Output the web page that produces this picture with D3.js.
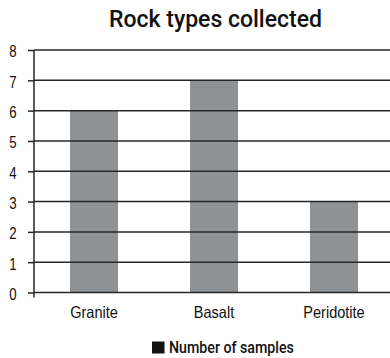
<!DOCTYPE html>
<html>
<head>
<meta charset="utf-8">
<script src="https://cdn.jsdelivr.net/npm/d3@7"></script>
<style>
  html, body { margin: 0; padding: 0; background: #fff; }
  svg { display: block; font-family: Roboto, "Noto Sans", sans-serif; }
</style>
</head>
<body>
<svg id="chart" width="390" height="358"></svg>
<script>
// Rock samples collected per rock type
const categories = ["Granite", "Basalt", "Peridotite"];
const samples = [6, 7, 3];
const yTicks = [0, 1, 2, 3, 4, 5, 6, 7, 8];
const chartTitle = "Rock types collected";
const seriesName = "Number of samples";

const svg = d3.select("#chart");
const margin = { left: 34, right: -4, top: 50, bottom: 65.5 };
const W = 390, H = 358;

// Squeeze text horizontally to get a condensed face from a regular one
function condense(sel, k) {
  sel.each(function () {
    const w = this.getComputedTextLength();
    d3.select(this)
      .attr("textLength", w * k)
      .attr("lengthAdjust", "spacingAndGlyphs");
  });
}

const x = d3.scaleBand()
  .domain(categories)
  .range([margin.left, W - margin.right])
  .paddingInner(0.6)
  .paddingOuter(0.3);

const y = d3.scaleLinear()
  .domain([0, 8])
  .range([H - margin.bottom, margin.top]);

// Title
svg.append("text")
  .attr("x", 215.5)
  .attr("y", 27)
  .attr("text-anchor", "middle")
  .attr("font-size", 23)
  .attr("font-weight", 500)
  .attr("fill", "#111")
  .text(chartTitle)
  .call(condense, 1.0);

// Bars
svg.append("g")
  .selectAll("rect")
  .data(samples)
  .join("rect")
  .attr("x", (d, i) => x(categories[i]))
  .attr("y", d => y(d))
  .attr("width", x.bandwidth())
  .attr("height", d => y(0) - y(d))
  .attr("fill", "#8f9295");

// Horizontal gridlines, drawn over the bars
svg.append("g")
  .selectAll("line")
  .data(yTicks)
  .join("line")
  .attr("x1", margin.left)
  .attr("x2", W)
  .attr("y1", d => y(d))
  .attr("y2", d => y(d))
  .attr("stroke", "#262626")
  .attr("stroke-width", 1.5);

// Y axis
const yAxis = svg.append("g")
  .attr("transform", `translate(${margin.left},0)`)
  .call(d3.axisLeft(y).tickValues(yTicks).tickSize(6).tickSizeOuter(0).tickPadding(12));
yAxis.select(".domain").remove();
yAxis.selectAll(".tick line").attr("stroke", "#262626").attr("stroke-width", 1.5);
yAxis.selectAll(".tick text")
  .attr("font-size", 17)
  .attr("font-family", null)
  .attr("fill", "#111")
  .attr("text-anchor", "middle")
  .attr("x", -21)
  .attr("dy", "0.4em")
  .call(condense, 0.78);
yAxis.append("line")
  .attr("x1", 0).attr("x2", 0)
  .attr("y1", y(8)).attr("y2", y(0) + 5)
  .attr("stroke", "#262626")
  .attr("stroke-width", 1.5);

// X axis labels
const xAxis = svg.append("g")
  .attr("transform", `translate(0,${y(0)})`)
  .call(d3.axisBottom(x).tickSize(0).tickPadding(14));
xAxis.select(".domain").remove();
xAxis.selectAll(".tick text")
  .attr("font-size", 16.5)
  .attr("font-family", null)
  .attr("fill", "#111")
  .call(condense, 0.88);

// Legend
const legend = svg.append("g").attr("transform", "translate(152,341.5)");
legend.append("rect")
  .attr("width", 12.5).attr("height", 12)
  .attr("fill", "#111");
legend.append("text")
  .attr("x", 17)
  .attr("y", 11.5)
  .attr("font-size", 16.5)
  .attr("font-weight", 500)
  .attr("fill", "#111")
  .text(seriesName)
  .call(condense, 0.86);
</script>
</body>
</html>
